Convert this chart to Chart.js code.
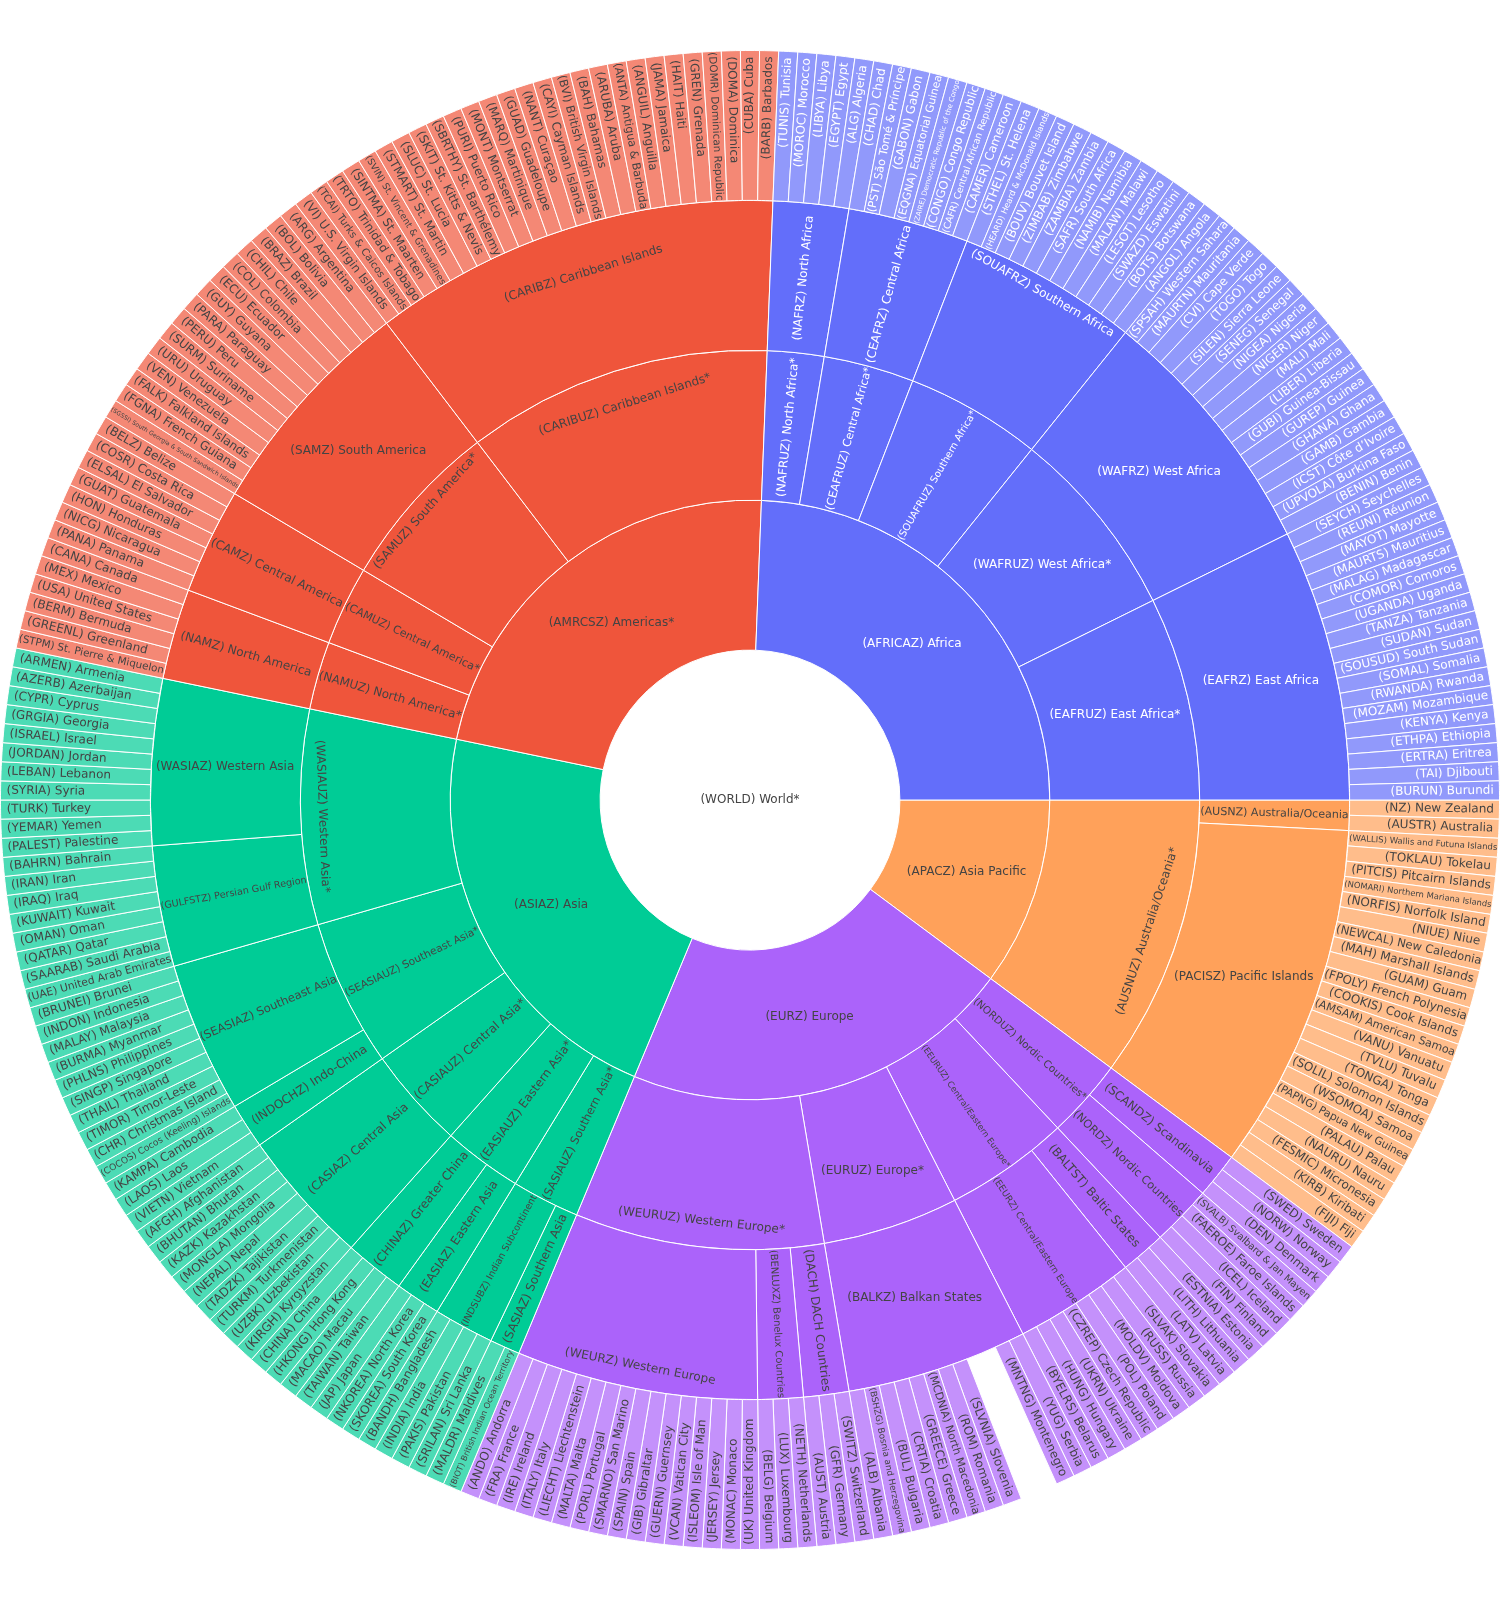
<!DOCTYPE html>
<html>
<head>
<meta charset="utf-8">
<title>World regions sunburst</title>
<script src="https://cdn.jsdelivr.net/npm/chart.js@4.4.1/dist/chart.umd.min.js"></script>
<style>
  html, body { margin: 0; background: #fff; }
  canvas { display: block; }
</style>
</head>
<body>
<canvas id="sunburst" width="1500" height="1600"></canvas>
<script>
// everything is listed counterclockwise from 3 o'clock, the way the rings are drawn

// ring 1
const regions = [
  ['AFRICAZ', 'Africa'],
  ['AMRCSZ', 'Americas*'],
  ['ASIAZ', 'Asia'],
  ['EURZ', 'Europe'],
  ['APACZ', 'Asia Pacific']
];
const regionColors = ['#636efa', '#EF553B', '#00cc96', '#ab63fa', '#FFA15A'];
const regionTextColors = ['#fff', '#444', '#444', '#444', '#444'];

// ring 2: [code, name, region]
const subregions = [
  ['EAFRUZ', 'East Africa*', 'AFRICAZ'],
  ['WAFRUZ', 'West Africa*', 'AFRICAZ'],
  ['SOUAFRUZ', 'Southern Africa*', 'AFRICAZ'],
  ['CEAFRUZ', 'Central Africa*', 'AFRICAZ'],
  ['NAFRUZ', 'North Africa*', 'AFRICAZ'],
  ['CARIBUZ', 'Caribbean Islands*', 'AMRCSZ'],
  ['SAMUZ', 'South America*', 'AMRCSZ'],
  ['CAMUZ', 'Central America*', 'AMRCSZ'],
  ['NAMUZ', 'North America*', 'AMRCSZ'],
  ['WASIAUZ', 'Western Asia*', 'ASIAZ'],
  ['SEASIAUZ', 'Southeast Asia*', 'ASIAZ'],
  ['CASIAUZ', 'Central Asia*', 'ASIAZ'],
  ['EASIAUZ', 'Eastern Asia*', 'ASIAZ'],
  ['SASIAUZ', 'Southern Asia*', 'ASIAZ'],
  ['WEURUZ', 'Western Europe*', 'EURZ'],
  ['EURUZ', 'Europe*', 'EURZ'],
  ['EEURUZ', 'Central/Eastern Europe*', 'EURZ'],
  ['NORDUZ', 'Nordic Countries*', 'EURZ'],
  ['AUSNUZ', 'Australia/Oceania*', 'APACZ']
];

// ring 3: [code, name, subregion]
const groups = [
  ['EAFRZ', 'East Africa', 'EAFRUZ'],
  ['WAFRZ', 'West Africa', 'WAFRUZ'],
  ['SOUAFRZ', 'Southern Africa', 'SOUAFRUZ'],
  ['CEAFRZ', 'Central Africa', 'CEAFRUZ'],
  ['NAFRZ', 'North Africa', 'NAFRUZ'],
  ['CARIBZ', 'Caribbean Islands', 'CARIBUZ'],
  ['SAMZ', 'South America', 'SAMUZ'],
  ['CAMZ', 'Central America', 'CAMUZ'],
  ['NAMZ', 'North America', 'NAMUZ'],
  ['WASIAZ', 'Western Asia', 'WASIAUZ'],
  ['GULFSTZ', 'Persian Gulf Region', 'WASIAUZ'],
  ['SEASIAZ', 'Southeast Asia', 'SEASIAUZ'],
  ['INDOCHZ', 'Indo-China', 'SEASIAUZ'],
  ['CASIAZ', 'Central Asia', 'CASIAUZ'],
  ['CHINAZ', 'Greater China', 'EASIAUZ'],
  ['EASIAZ', 'Eastern Asia', 'EASIAUZ'],
  ['INDSUBZ', 'Indian Subcontinent', 'SASIAUZ'],
  ['SASIAZ', 'Southern Asia', 'SASIAUZ'],
  ['WEURZ', 'Western Europe', 'WEURUZ'],
  ['BENLUXZ', 'Benelux Countries', 'WEURUZ'],
  ['DACH', 'DACH Countries', 'WEURUZ'],
  ['BALKZ', 'Balkan States', 'EURUZ'],
  ['EEURZ', 'Central/Eastern Europe', 'EEURUZ'],
  ['BALTST', 'Baltic States', 'EEURUZ'],
  ['NORDZ', 'Nordic Countries', 'NORDUZ'],
  ['SCANDZ', 'Scandinavia', 'NORDUZ'],
  ['PACISZ', 'Pacific Islands', 'AUSNUZ'],
  ['AUSNZ', 'Australia/Oceania', 'AUSNUZ']
];

// ring 4: [group, label, value]; value defaults to one country,
// an empty label is the blank slice inside the Balkan States
const countryValue = 1;

const africaCountries = [
  ['EAFRZ', '(BURUN) Burundi'], ['EAFRZ', '(TAI) Djibouti'], ['EAFRZ', '(ERTRA) Eritrea'],
  ['EAFRZ', '(ETHPA) Ethiopia'], ['EAFRZ', '(KENYA) Kenya'], ['EAFRZ', '(MOZAM) Mozambique'],
  ['EAFRZ', '(RWANDA) Rwanda'], ['EAFRZ', '(SOMAL) Somalia'], ['EAFRZ', '(SOUSUD) South Sudan'],
  ['EAFRZ', '(SUDAN) Sudan'], ['EAFRZ', '(TANZA) Tanzania'], ['EAFRZ', '(UGANDA) Uganda'],
  ['EAFRZ', '(COMOR) Comoros'], ['EAFRZ', '(MALAG) Madagascar'], ['EAFRZ', '(MAURTS) Mauritius'],
  ['EAFRZ', '(MAYOT) Mayotte'], ['EAFRZ', '(REUNI) Réunion'], ['EAFRZ', '(SEYCH) Seychelles'],
  ['WAFRZ', '(BENIN) Benin'], ['WAFRZ', '(UPVOLA) Burkina Faso'], ['WAFRZ', '(ICST) Côte d’Ivoire'],
  ['WAFRZ', '(GAMB) Gambia'], ['WAFRZ', '(GHANA) Ghana'], ['WAFRZ', '(GUREP) Guinea'],
  ['WAFRZ', '(GUBI) Guinea-Bissau'], ['WAFRZ', '(LIBER) Liberia'], ['WAFRZ', '(MALI) Mali'],
  ['WAFRZ', '(NIGER) Niger'], ['WAFRZ', '(NIGEA) Nigeria'], ['WAFRZ', '(SENEG) Senegal'],
  ['WAFRZ', '(SILEN) Sierra Leone'], ['WAFRZ', '(TOGO) Togo'], ['WAFRZ', '(CVI) Cape Verde'],
  ['WAFRZ', '(MAURTN) Mauritania'], ['WAFRZ', '(SPSAH) Western Sahara'],
  ['SOUAFRZ', '(ANGOL) Angola'], ['SOUAFRZ', '(BOTS) Botswana'], ['SOUAFRZ', '(SWAZD) Eswatini'],
  ['SOUAFRZ', '(LESOT) Lesotho'], ['SOUAFRZ', '(MALAW) Malawi'], ['SOUAFRZ', '(NAMIB) Namibia'],
  ['SOUAFRZ', '(SAFR) South Africa'], ['SOUAFRZ', '(ZAMBIA) Zambia'], ['SOUAFRZ', '(ZIMBAB) Zimbabwe'],
  ['SOUAFRZ', '(BOUV) Bouvet Island'], ['SOUAFRZ', '(HEARD) Heard & McDonald Islands'],
  ['SOUAFRZ', '(STHEL) St. Helena'],
  ['CEAFRZ', '(CAMER) Cameroon'], ['CEAFRZ', '(CAFR) Central African Republic'],
  ['CEAFRZ', '(CONGO) Congo Republic'], ['CEAFRZ', '(ZAIRE) Democratic Republic of the Congo'],
  ['CEAFRZ', '(EQGNA) Equatorial Guinea'], ['CEAFRZ', '(GABON) Gabon'],
  ['CEAFRZ', '(PST) São Tomé & Príncipe'], ['CEAFRZ', '(CHAD) Chad'],
  ['NAFRZ', '(ALG) Algeria'], ['NAFRZ', '(EGYPT) Egypt'], ['NAFRZ', '(LIBYA) Libya'],
  ['NAFRZ', '(MOROC) Morocco'], ['NAFRZ', '(TUNIS) Tunisia']
];

const americasCountries = [
  ['CARIBZ', '(BARB) Barbados'], ['CARIBZ', '(CUBA) Cuba'], ['CARIBZ', '(DOMA) Dominica'],
  ['CARIBZ', '(DOMR) Dominican Republic'], ['CARIBZ', '(GREN) Grenada'], ['CARIBZ', '(HAIT) Haiti'],
  ['CARIBZ', '(JAMA) Jamaica'], ['CARIBZ', '(ANGUIL) Anguilla'], ['CARIBZ', '(ANTA) Antigua & Barbuda'],
  ['CARIBZ', '(ARUBA) Aruba'], ['CARIBZ', '(BAH) Bahamas'], ['CARIBZ', '(BVI) British Virgin Islands'],
  ['CARIBZ', '(CAYI) Cayman Islands'], ['CARIBZ', '(NANT) Curaçao'], ['CARIBZ', '(GUAD) Guadeloupe'],
  ['CARIBZ', '(MARQ) Martinique'], ['CARIBZ', '(MONT) Montserrat'], ['CARIBZ', '(PURI) Puerto Rico'],
  ['CARIBZ', '(SBRTHY) St. Barthélemy'], ['CARIBZ', '(SKIT) St. Kitts & Nevis'], ['CARIBZ', '(SLUC) St. Lucia'],
  ['CARIBZ', '(STMART) St. Martin'], ['CARIBZ', '(SVIN) St. Vincent & Grenadines'],
  ['CARIBZ', '(SINTMA) St. Maarten'], ['CARIBZ', '(TRTO) Trinidad & Tobago'],
  ['CARIBZ', '(TCAI) Turks & Caicos Islands'], ['CARIBZ', '(VI) U.S. Virgin Islands'],
  ['SAMZ', '(ARG) Argentina'], ['SAMZ', '(BOL) Bolivia'], ['SAMZ', '(BRAZ) Brazil'], ['SAMZ', '(CHIL) Chile'],
  ['SAMZ', '(COL) Colombia'], ['SAMZ', '(ECU) Ecuador'], ['SAMZ', '(GUY) Guyana'], ['SAMZ', '(PARA) Paraguay'],
  ['SAMZ', '(PERU) Peru'], ['SAMZ', '(SURM) Suriname'], ['SAMZ', '(URU) Uruguay'], ['SAMZ', '(VEN) Venezuela'],
  ['SAMZ', '(FALK) Falkland Islands'], ['SAMZ', '(FGNA) French Guiana'],
  ['SAMZ', '(SGSSI) South Georgia & South Sandwich Islands'],
  ['CAMZ', '(BELZ) Belize'], ['CAMZ', '(COSR) Costa Rica'], ['CAMZ', '(ELSAL) El Salvador'],
  ['CAMZ', '(GUAT) Guatemala'], ['CAMZ', '(HON) Honduras'], ['CAMZ', '(NICG) Nicaragua'], ['CAMZ', '(PANA) Panama'],
  ['NAMZ', '(CANA) Canada'], ['NAMZ', '(MEX) Mexico'], ['NAMZ', '(USA) United States'],
  ['NAMZ', '(BERM) Bermuda'], ['NAMZ', '(GREENL) Greenland'], ['NAMZ', '(STPM) St. Pierre & Miquelon']
];

const asiaCountries = [
  ['WASIAZ', '(ARMEN) Armenia'], ['WASIAZ', '(AZERB) Azerbaijan'], ['WASIAZ', '(CYPR) Cyprus'],
  ['WASIAZ', '(GRGIA) Georgia'], ['WASIAZ', '(ISRAEL) Israel'], ['WASIAZ', '(JORDAN) Jordan'],
  ['WASIAZ', '(LEBAN) Lebanon'], ['WASIAZ', '(SYRIA) Syria'], ['WASIAZ', '(TURK) Turkey'],
  ['WASIAZ', '(YEMAR) Yemen'], ['WASIAZ', '(PALEST) Palestine'],
  ['GULFSTZ', '(BAHRN) Bahrain'], ['GULFSTZ', '(IRAN) Iran'], ['GULFSTZ', '(IRAQ) Iraq'],
  ['GULFSTZ', '(KUWAIT) Kuwait'], ['GULFSTZ', '(OMAN) Oman'], ['GULFSTZ', '(QATAR) Qatar'],
  ['GULFSTZ', '(SAARAB) Saudi Arabia'], ['GULFSTZ', '(UAE) United Arab Emirates'],
  ['SEASIAZ', '(BRUNEI) Brunei'], ['SEASIAZ', '(INDON) Indonesia'], ['SEASIAZ', '(MALAY) Malaysia'],
  ['SEASIAZ', '(BURMA) Myanmar'], ['SEASIAZ', '(PHLNS) Philippines'], ['SEASIAZ', '(SINGP) Singapore'],
  ['SEASIAZ', '(THAIL) Thailand'], ['SEASIAZ', '(TIMOR) Timor-Leste'], ['SEASIAZ', '(CHR) Christmas Island'],
  ['SEASIAZ', '(COCOS) Cocos (Keeling) Islands'],
  ['INDOCHZ', '(KAMPA) Cambodia'], ['INDOCHZ', '(LAOS) Laos'], ['INDOCHZ', '(VIETN) Vietnam'],
  ['CASIAZ', '(AFGH) Afghanistan'], ['CASIAZ', '(BHUTAN) Bhutan'], ['CASIAZ', '(KAZK) Kazakhstan'],
  ['CASIAZ', '(MONGLA) Mongolia'], ['CASIAZ', '(NEPAL) Nepal'], ['CASIAZ', '(TADZK) Tajikistan'],
  ['CASIAZ', '(TURKM) Turkmenistan'], ['CASIAZ', '(UZBK) Uzbekistan'], ['CASIAZ', '(KIRGH) Kyrgyzstan'],
  ['CHINAZ', '(CHINA) China'], ['CHINAZ', '(HKONG) Hong Kong'], ['CHINAZ', '(MACAO) Macau'],
  ['CHINAZ', '(TAIWAN) Taiwan'],
  ['EASIAZ', '(JAP) Japan'], ['EASIAZ', '(NKOREA) North Korea'], ['EASIAZ', '(SKOREA) South Korea'],
  ['INDSUBZ', '(BANDH) Bangladesh'], ['INDSUBZ', '(INDIA) India'], ['INDSUBZ', '(PAKIS) Pakistan'],
  ['INDSUBZ', '(SRILAN) Sri Lanka'],
  ['SASIAZ', '(MALDR) Maldives'], ['SASIAZ', '(BIOT) British Indian Ocean Territory']
];

const europeCountries = [
  ['WEURZ', '(ANDO) Andorra'], ['WEURZ', '(FRA) France'], ['WEURZ', '(IRE) Ireland'], ['WEURZ', '(ITALY) Italy'],
  ['WEURZ', '(LIECHT) Liechtenstein'], ['WEURZ', '(MALTA) Malta'], ['WEURZ', '(PORL) Portugal'],
  ['WEURZ', '(SMARNO) San Marino'], ['WEURZ', '(SPAIN) Spain'], ['WEURZ', '(GIB) Gibraltar'],
  ['WEURZ', '(GUERN) Guernsey'], ['WEURZ', '(VCAN) Vatican City'], ['WEURZ', '(ISLEOM) Isle of Man'],
  ['WEURZ', '(JERSEY) Jersey'], ['WEURZ', '(MONAC) Monaco'], ['WEURZ', '(UK) United Kingdom'],
  ['BENLUXZ', '(BELG) Belgium'], ['BENLUXZ', '(LUX) Luxembourg'], ['BENLUXZ', '(NETH) Netherlands'],
  ['DACH', '(AUST) Austria'], ['DACH', '(GFR) Germany'], ['DACH', '(SWITZ) Switzerland'],
  ['BALKZ', '(ALB) Albania'], ['BALKZ', '(BSHZG) Bosnia and Herzegovina'], ['BALKZ', '(BUL) Bulgaria'],
  ['BALKZ', '(CRTIA) Croatia'], ['BALKZ', '(GREECE) Greece'], ['BALKZ', '(MCDNIA) North Macedonia'],
  ['BALKZ', '(ROM) Romania'], ['BALKZ', '(SLVNIA) Slovenia'], ['BALKZ', '', 2],
  ['BALKZ', '(MNTNG) Montenegro'], ['BALKZ', '(YUG) Serbia'],
  ['EEURZ', '(BYELRS) Belarus'], ['EEURZ', '(HUNG) Hungary'], ['EEURZ', '(UKRN) Ukraine'],
  ['EEURZ', '(CZREP) Czech Republic'], ['EEURZ', '(POL) Poland'], ['EEURZ', '(MOLDV) Moldova'],
  ['EEURZ', '(RUSS) Russia'], ['EEURZ', '(SLVAK) Slovakia'],
  ['BALTST', '(LATV) Latvia'], ['BALTST', '(LITH) Lithuania'], ['BALTST', '(ESTNIA) Estonia'],
  ['NORDZ', '(FIN) Finland'], ['NORDZ', '(ICEL) Iceland'], ['NORDZ', '(FAEROE) Faroe Islands'],
  ['NORDZ', '(SVALB) Svalbard & Jan Mayen'],
  ['SCANDZ', '(DEN) Denmark'], ['SCANDZ', '(NORW) Norway'], ['SCANDZ', '(SWED) Sweden']
];

const apacCountries = [
  ['PACISZ', '(FIJI) Fiji'], ['PACISZ', '(KIRB) Kiribati'], ['PACISZ', '(FESMIC) Micronesia'],
  ['PACISZ', '(NAURU) Nauru'], ['PACISZ', '(PALAU) Palau'], ['PACISZ', '(PAPNG) Papua New Guinea'],
  ['PACISZ', '(WSOMOA) Samoa'], ['PACISZ', '(SOLIL) Solomon Islands'], ['PACISZ', '(TONGA) Tonga'],
  ['PACISZ', '(TVLU) Tuvalu'], ['PACISZ', '(VANU) Vanuatu'], ['PACISZ', '(AMSAM) American Samoa'],
  ['PACISZ', '(COOKIS) Cook Islands'], ['PACISZ', '(FPOLY) French Polynesia'], ['PACISZ', '(GUAM) Guam'],
  ['PACISZ', '(MAH) Marshall Islands'], ['PACISZ', '(NEWCAL) New Caledonia'], ['PACISZ', '(NIUE) Niue'],
  ['PACISZ', '(NORFIS) Norfolk Island'], ['PACISZ', '(NOMARI) Northern Mariana Islands'],
  ['PACISZ', '(PITCIS) Pitcairn Islands'], ['PACISZ', '(TOKLAU) Tokelau'],
  ['PACISZ', '(WALLIS) Wallis and Futuna Islands'],
  ['AUSNZ', '(AUSTR) Australia'], ['AUSNZ', '(NZ) New Zealand']
];

const rootLabel = '(WORLD) World*';

const FONT = '"DejaVu Sans", Verdana, sans-serif';
const FONT_SIZE = 12;
const TEXT_H = 14.6;
const LEAF_OPACITY = 0.7;

const countries = [...africaCountries, ...americasCountries, ...asiaCountries, ...europeCountries, ...apacCountries];
const tag = (code, name) => '(' + code + ') ' + name;

function fade(hex, alpha) {
  const n = parseInt(hex.slice(1), 16);
  return 'rgba(' + (n >> 16) + ',' + ((n >> 8) & 255) + ',' + (n & 255) + ',' + alpha + ')';
}

// walk the tree so every ring lines up with the one outside it
const ring1 = [], ring2 = [], ring3 = [], ring4 = [];
regions.forEach(([rc, rn], ri) => {
  const color = regionColors[ri];
  const textColor = regionTextColors[ri];
  let rTotal = 0;
  subregions.filter(s => s[2] === rc).forEach(([sc, sn]) => {
    let sTotal = 0;
    groups.filter(g => g[2] === sc).forEach(([gc, gn]) => {
      let gTotal = 0;
      countries.filter(c => c[0] === gc).forEach(([, text, value = countryValue]) => {
        ring4.push({
          text, value, textColor,
          fill: text ? fade(color, LEAF_OPACITY) : 'rgba(0,0,0,0)',
          line: text ? 1 : 0
        });
        gTotal += value;
      });
      ring3.push({ text: tag(gc, gn), value: gTotal, fill: color, textColor, line: 1 });
      sTotal += gTotal;
    });
    ring2.push({ text: tag(sc, sn), value: sTotal, fill: color, textColor, line: 1 });
    rTotal += sTotal;
  });
  ring1.push({ text: tag(rc, rn), value: rTotal, fill: color, textColor, line: 1 });
});

// Chart.js goes clockwise, so feed each ring backwards
function toDataset(items) {
  const list = items.slice().reverse();
  return {
    data: list.map(d => d.value),
    backgroundColor: list.map(d => d.fill),
    borderColor: '#fff',
    borderWidth: list.map(d => d.line),
    hoverBorderWidth: list.map(d => d.line),
    sliceLabels: list.map(d => d.text),
    sliceTextColors: list.map(d => d.textColor)
  };
}

// text fitting, angles measured from 12 o'clock going clockwise
function maxHalfSize(a, half, r, ring) {
  const q = a + 1 / (2 * Math.tan(half));
  return r * Math.min(1 / (Math.sqrt(q * q + 0.5) + q), ring / (Math.sqrt(a * a + ring / 2) + a));
}
function turn(t) { return (180 / Math.PI * t + 720) % 180 - 90; }

function radialFit(w, h, r, ring, half, mid) {
  r = Math.max(0, r - 6);
  const a = w / h;
  const s = maxHalfSize(a, half, r, ring);
  return { scale: s * 2 / h, rCenter: Math.cos(s / r) - a * s / r, rotate: turn(mid), angle: mid };
}
function tangentFit(w, h, r, ring, half, mid) {
  r = Math.max(0, r - 6);
  const a = h / w;
  const s = maxHalfSize(a, half, r, ring);
  return { scale: s * 2 / w, rCenter: Math.cos(s / r) - a * s / r, rotate: turn(mid + Math.PI / 2), angle: mid };
}

function fitText(w, h, p) {
  const start = p.startAngle + Math.PI / 2;
  const stop = p.endAngle + Math.PI / 2;
  const r1 = p.outerRadius;
  const ring = 1 - p.innerRadius / r1;
  const half = 0.5 * Math.min(stop - start || Math.PI, Math.PI);
  const mid = (start + stop) / 2;

  // level text first, if it fits at full size
  const rIn = Math.max(0, Math.min(1 / (1 + 1 / Math.sin(half)), ring / 2));
  const flat = { scale: rIn * r1 * 2 / Math.hypot(w, h), rCenter: 1 - rIn, rotate: 0, angle: mid };
  if (flat.scale >= 1) return flat;

  const fits = [flat, radialFit(w, h, r1, ring, half, mid), tangentFit(w, h, r1, ring, half, mid)];
  return fits.reduce((best, t) => (t.scale > best.scale ? t : best));
}

const sliceLabels = {
  id: 'sliceLabels',
  afterDatasetsDraw(chart) {
    const ctx = chart.ctx;
    ctx.save();
    ctx.textAlign = 'center';
    ctx.textBaseline = 'middle';
    let cx = 0, cy = 0;
    chart.data.datasets.forEach((ds, di) => {
      chart.getDatasetMeta(di).data.forEach((arc, i) => {
        const p = arc.getProps(['x', 'y', 'startAngle', 'endAngle', 'innerRadius', 'outerRadius'], true);
        cx = p.x; cy = p.y;
        const text = ds.sliceLabels[i];
        if (!text) return;
        ctx.font = FONT_SIZE + 'px ' + FONT;
        const w = ctx.measureText(text).width;
        const t = fitText(w, TEXT_H, p);
        const size = FONT_SIZE * Math.min(1, t.scale);
        const rr = p.outerRadius * t.rCenter;
        ctx.save();
        ctx.translate(p.x + rr * Math.sin(t.angle), p.y - rr * Math.cos(t.angle));
        ctx.rotate(t.rotate * Math.PI / 180);
        ctx.font = size.toFixed(2) + 'px ' + FONT;
        ctx.fillStyle = ds.sliceTextColors[i];
        ctx.fillText(text, 0, 0);
        ctx.restore();
      });
    });
    ctx.font = FONT_SIZE + 'px ' + FONT;
    ctx.fillStyle = '#444';
    ctx.fillText(rootLabel, cx, cy);
    ctx.restore();
  }
};

new Chart(document.getElementById('sunburst'), {
  type: 'doughnut',
  data: {
    datasets: [toDataset(ring4), toDataset(ring3), toDataset(ring2), toDataset(ring1)]
  },
  options: {
    responsive: false,
    animation: false,
    events: [],
    cutout: '20%',
    rotation: 90,
    layout: { padding: 0 },
    plugins: {
      legend: { display: false },
      tooltip: { enabled: false }
    }
  },
  plugins: [sliceLabels]
});
</script>
</body>
</html>
